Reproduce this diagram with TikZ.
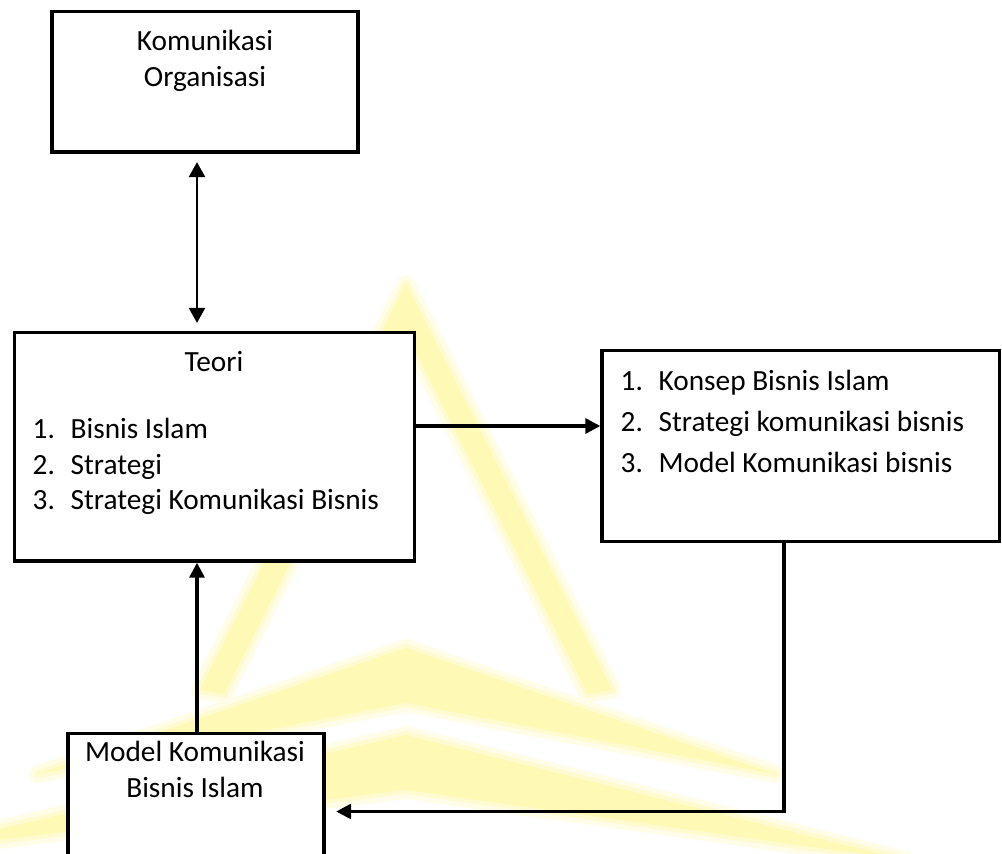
\documentclass[tikz,border=0pt]{standalone}
\usepackage{fontspec}
\setmainfont{Carlito}
\usetikzlibrary{arrows.meta}

\definecolor{wmCore}{RGB}{255,249,182}
\definecolor{wmMid}{RGB}{255,251,208}
\definecolor{wmHalo}{RGB}{255,253,232}

% pale logo in the background: a triangle frame and two chevrons
\newcommand\wmpaths[1]{%
  \path[#1] (406,284) -- (612,690) -- (588,694) -- (406,332) -- (224,694) -- (200,690) -- cycle;
  \path[#1] (406,648) -- (775,774) -- (406,703) -- (38,774) -- cycle;
  \path[#1] (406,735) -- (905,860) -- (406,790) -- (-100,852) -- cycle;}

\newcommand\numitem[2]{\makebox[38pt][l]{#1}#2}

\tikzset{
  box/.style={draw=black, fill=white, line width=3.4pt, rectangle, inner sep=0pt},
  txt/.style={font=\fontsize{29.3}{35.5}\selectfont, inner sep=0pt, anchor=base},
  listitem/.style={txt, anchor=base west},
  conn/.style={line width=3.2pt},
  thinconn/.style={line width=2.3pt},
  head/.tip={Triangle[length=15pt,width=15pt]},
  headD/.tip={Triangle[length=15pt,width=16pt]},
}

\begin{document}
\begin{tikzpicture}[x=1pt,y=-1pt]
\clip (0,0) rectangle (1002,854);
\fill[white] (0,0) rectangle (1002,854);

% background logo with soft edges
\wmpaths{draw=wmHalo, fill=wmHalo, line width=18pt, line join=round}
\wmpaths{draw=wmMid, fill=wmMid, line width=8pt, line join=round}
\wmpaths{fill=wmCore}

% boxes
\node[box, minimum width=306pt, minimum height=140.5pt] (org) at (205,81.75) {};
\node[box, minimum width=400pt, minimum height=228.5pt] (teori) at (214.5,446.75) {};
\node[box, minimum width=397.5pt, minimum height=191pt] (hasil) at (800.75,446) {};
\node[box, minimum width=256pt, minimum height=166.5pt] (model) at (196,816.75) {};

% guide coordinates for the connectors
\coordinate (axL) at (197,0);
\coordinate (axR) at (784,0);
\coordinate (rowA) at (0,426);
\coordinate (bend) at (784,811.5);

% connectors
\draw[thinconn, headD-headD, shorten <=8.4pt, shorten >=7.9pt] (org.south -| axL) -- (teori.north -| axL);
\draw[conn, -head] (teori.east |- rowA) -- (hasil.west |- rowA);
\draw[conn, -head] (model.north -| axL) -- (teori.south -| axL);
\draw[conn, -head, shorten >=10.5pt] (hasil.south -| axR) -- (bend) -- (model.east |- bend);

% texts
\node[txt] (orgA) at (205,50) {Komunikasi};
\node[txt] (orgB) at (205,86) {Organisasi};
\node[txt] (teoriT) at (214,371.5) {Teori};
\node[listitem] (teoriA) at (32.5,438) {\numitem{1.}{Bisnis Islam}};
\node[listitem] (teoriB) at (32.5,474) {\numitem{2.}{Strategi}};
\node[listitem] (teoriC) at (32.5,509.5) {\numitem{3.}{Strategi Komunikasi Bisnis}};
\node[listitem] (hasilA) at (620.5,390.5) {\numitem{1.}{Konsep Bisnis Islam}};
\node[listitem] (hasilB) at (620.5,431) {\numitem{2.}{Strategi komunikasi bisnis}};
\node[listitem] (hasilC) at (620.5,472) {\numitem{3.}{Model Komunikasi bisnis}};
\node[txt] (modelA) at (195,761) {Model Komunikasi};
\node[txt] (modelB) at (195,797) {Bisnis Islam};
\end{tikzpicture}
\end{document}
